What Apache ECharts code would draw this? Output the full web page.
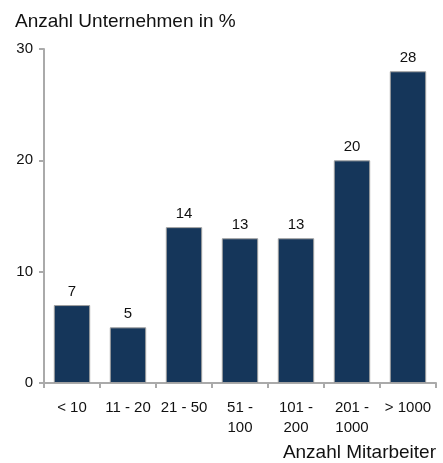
<!DOCTYPE html>
<html>
<head>
<meta charset="utf-8">
<script src="https://cdn.jsdelivr.net/npm/echarts@6/dist/echarts.min.js"></script>
<style>
  html, body { margin: 0; padding: 0; background: #fff; }
  #chart { width: 443px; height: 463px; }
</style>
</head>
<body>
<div id="chart"></div>
<script>
const categories = ['< 10', '11 - 20', '21 - 50', '51 -\n100', '101 -\n200', '201 -\n1000', '> 1000'];
const shares = [7, 5, 14, 13, 13, 20, 28];

const barColor = '#15365a', axisColor = '#aaaaaa', textColor = '#111';
const font = 'Liberation Sans, Arial, sans-serif';

const chart = echarts.init(document.getElementById('chart'));
chart.setOption({
  animation: false,
  textStyle: { fontFamily: font },
  title: [
    { text: 'Anzahl Unternehmen in %', left: 15, top: 12, padding: 0,
      textStyle: { fontFamily: font, fontSize: 19, fontWeight: 'normal', color: textColor } },
    { text: 'Anzahl Mitarbeiter', right: 7, top: 443, padding: 0,
      textStyle: { fontFamily: font, fontSize: 19, fontWeight: 'normal', color: textColor } }
  ],
  grid: { left: 44, right: 7, top: 49, bottom: 80 },
  xAxis: {
    type: 'category',
    data: categories,
    axisLine: { lineStyle: { color: axisColor, width: 2 } },
    axisTick: { show: true, length: 5, lineStyle: { color: axisColor, width: 2 } },
    axisLabel: { color: textColor, fontSize: 15, margin: 15, lineHeight: 20, interval: 0 }
  },
  yAxis: {
    type: 'value',
    min: 0, max: 30, interval: 10,
    splitLine: { show: false },
    axisLine: { show: true, lineStyle: { color: axisColor, width: 2 } },
    axisTick: { show: true, length: 5, lineStyle: { color: axisColor, width: 2 } },
    axisLabel: { color: textColor, fontSize: 15, margin: 11 }
  },
  series: [{
    type: 'bar',
    data: shares,
    barWidth: '65%',
    itemStyle: { color: barColor, borderColor: '#a0a0a0', borderWidth: 1 },
    label: { show: true, position: 'top', color: textColor, fontSize: 15, distance: 6 }
  }]
});
</script>
</body>
</html>
